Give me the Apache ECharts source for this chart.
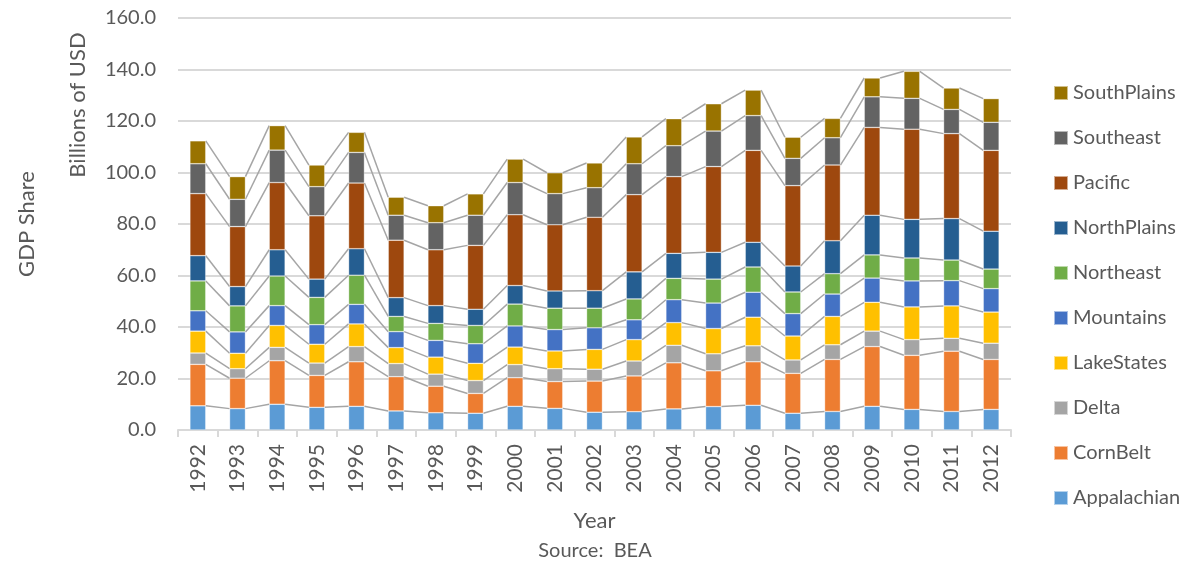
<!DOCTYPE html>
<html>
<head>
<meta charset="utf-8">
<title>GDP Share</title>
<script src="https://cdn.jsdelivr.net/npm/echarts@6/dist/echarts.min.js"></script>
<style>
  html, body { margin: 0; padding: 0; background: #fff; }
  #chart { width: 1200px; height: 568px; }
</style>
</head>
<body>
<div id="chart"></div>
<script>
// 年份
const years = ['1992', '1993', '1994', '1995', '1996', '1997', '1998', '1999', '2000', '2001', '2002',
  '2003', '2004', '2005', '2006', '2007', '2008', '2009', '2010', '2011', '2012']

// 各地区数据 (Billions of USD)
const appalachian = [9.4, 8.3, 10.0, 8.8, 9.2, 7.4, 6.7, 6.5, 9.2, 8.4, 6.9, 7.1, 8.2, 9.1, 9.6, 6.5, 7.2, 9.2, 8.0, 7.2, 8.0]
const cornBelt = [16.1, 11.8, 16.9, 12.4, 17.3, 13.3, 10.3, 7.7, 11.1, 10.4, 12.1, 13.9, 17.9, 13.9, 16.9, 15.5, 20.2, 23.2, 21.0, 23.4, 19.4]
const delta = [4.4, 3.7, 5.2, 4.8, 5.9, 5.1, 4.7, 5.0, 5.1, 5.0, 4.6, 5.8, 6.8, 6.6, 6.2, 5.2, 5.7, 6.0, 6.1, 5.0, 6.3]
const lakeStates = [8.5, 6.0, 8.5, 7.3, 8.8, 6.2, 6.6, 6.7, 6.8, 6.9, 7.7, 8.3, 8.8, 9.8, 11.1, 9.3, 11.0, 11.2, 12.7, 12.6, 12.1]
const mountains = [7.9, 8.3, 7.7, 7.6, 7.6, 6.2, 6.5, 7.6, 8.2, 8.3, 8.4, 7.7, 8.9, 9.9, 9.7, 8.7, 8.7, 9.4, 10.1, 9.8, 9.1]
const northeast = [11.6, 10.1, 11.5, 10.6, 11.3, 5.9, 6.6, 7.1, 8.5, 8.3, 7.6, 8.1, 8.3, 9.3, 9.8, 8.4, 7.9, 9.0, 8.9, 8.0, 7.6]
const northPlains = [9.8, 7.5, 10.2, 7.1, 10.3, 7.3, 6.9, 6.3, 7.2, 6.7, 6.8, 10.5, 9.7, 10.4, 9.6, 10.1, 12.8, 15.4, 15.0, 16.1, 14.7]
const pacific = [24.1, 23.3, 26.1, 24.6, 25.5, 22.3, 21.7, 24.8, 27.5, 25.7, 28.5, 30.0, 29.8, 33.3, 35.7, 31.2, 29.4, 34.1, 35.0, 33.0, 31.4]
const southeast = [11.6, 10.6, 12.6, 11.3, 11.9, 9.7, 10.5, 11.7, 12.5, 12.1, 11.5, 12.0, 12.0, 13.8, 13.5, 10.6, 10.6, 11.9, 12.0, 9.4, 10.9]
const southPlains = [8.9, 8.8, 9.5, 8.4, 7.8, 7.0, 6.6, 8.3, 9.1, 8.1, 9.6, 10.4, 10.5, 10.6, 9.9, 8.2, 7.5, 7.3, 10.5, 8.3, 9.2]

// 系列名称 (自下而上)
const seriesNames = ['Appalachian', 'CornBelt', 'Delta', 'LakeStates', 'Mountains', 'Northeast',
  'NorthPlains', 'Pacific', 'Southeast', 'SouthPlains']

const seriesData = [appalachian, cornBelt, delta, lakeStates, mountains, northeast,
  northPlains, pacific, southeast, southPlains]

// Excel 默认配色
const color = ['#5B9BD5', '#ED7D31', '#A5A5A5', '#FFC000', '#4472C4', '#70AD47',
  '#255E91', '#9E480E', '#636363', '#997300']

const fontFamily = 'Lato, "Open Sans", sans-serif'
const textColor = '#595959'
const barRatio = 0.4

// 累计值, 用于画系列线
const cumulative = seriesData.map(function (arr, k) {
  return arr.map(function (v, i) {
    let sum = 0
    for (let j = 0; j <= k; j++) {
      sum += seriesData[j][i]
    }
    return sum
  })
})

const myChart = echarts.init(document.getElementById('chart'))

const barSeries = seriesNames.map(function (name, k) {
  return {
    name: name,
    type: 'bar',
    stack: 'total',
    barWidth: (barRatio * 100) + '%',
    itemStyle: {
      color: color[k],
      borderColor: 'rgba(255,255,255,0.55)',
      borderWidth: 0.6
    },
    z: 3,
    data: seriesData[k]
  }
})

// 系列线 (连接相邻柱子各段顶部)
const lineSeries = {
  type: 'custom',
  silent: true,
  z: 2,
  renderItem: function (params, api) {
    const i = api.value(0)
    if (i >= years.length - 1) {
      return
    }
    const band = api.size([1, 0])[0]
    const half = band * barRatio / 2
    const children = cumulative.map(function (cum) {
      const p1 = api.coord([i, cum[i]])
      const p2 = api.coord([i + 1, cum[i + 1]])
      return {
        type: 'line',
        shape: {x1: p1[0] + half, y1: p1[1], x2: p2[0] - half, y2: p2[1]},
        style: {stroke: '#A5A5A5', lineWidth: 1.5}
      }
    })
    return {type: 'group', children: children}
  },
  encode: {x: 0, y: 1},
  data: years.map(function (y, i) {
    return [i, cumulative[cumulative.length - 1][i]]
  })
}

myChart.setOption({
  animation: false,
  textStyle: {fontFamily: fontFamily},
  grid: {
    left: 178,
    right: 189,
    top: 18,
    bottom: 138
  },
  legend: {
    orient: 'vertical',
    left: 1048,
    top: 78,
    itemWidth: 14,
    itemHeight: 14,
    itemGap: 25,
    icon: 'rect',
    data: seriesNames.slice().reverse(),
    textStyle: {
      fontSize: 20,
      color: textColor,
      fontFamily: fontFamily
    }
  },
  xAxis: {
    type: 'category',
    data: years,
    name: 'Year',
    nameLocation: 'middle',
    nameGap: 80,
    nameTextStyle: {fontSize: 22, color: textColor},
    axisLine: {lineStyle: {color: '#D9D9D9', width: 2}},
    axisTick: {show: true, length: 7, lineStyle: {color: '#D9D9D9', width: 2}},
    axisLabel: {
      rotate: 90,
      fontSize: 21,
      color: textColor,
      margin: 14
    }
  },
  yAxis: {
    type: 'value',
    min: 0,
    max: 160,
    interval: 20,
    name: 'GDP Share',
    nameLocation: 'middle',
    nameGap: 140,
    nameTextStyle: {fontSize: 22, color: textColor},
    axisLine: {show: false},
    axisTick: {show: false},
    axisLabel: {
      fontSize: 20,
      color: textColor,
      margin: 22,
      formatter: function (v) {
        return v.toFixed(1)
      }
    },
    splitLine: {lineStyle: {color: '#D9D9D9', width: 2}}
  },
  graphic: [
    {
      type: 'text',
      x: 78,
      y: 105,
      rotation: Math.PI / 2,
      style: {
        text: 'Billions of USD',
        fontSize: 22,
        fontFamily: fontFamily,
        fill: textColor,
        align: 'center',
        verticalAlign: 'middle'
      }
    },
    {
      type: 'text',
      x: 595,
      y: 551,
      style: {
        text: 'Source:  BEA',
        fontSize: 20,
        fontFamily: fontFamily,
        fill: textColor,
        align: 'center',
        verticalAlign: 'middle'
      }
    }
  ],
  series: barSeries.concat([lineSeries])
})
</script>
</body>
</html>
